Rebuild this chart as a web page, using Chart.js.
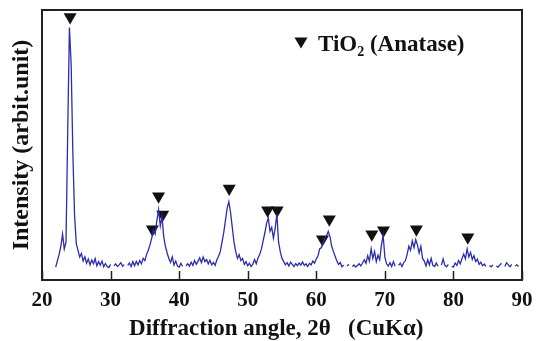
<!DOCTYPE html>
<html>
<head>
<meta charset="utf-8">
<script src="https://cdn.jsdelivr.net/npm/chart.js@4"></script>
<style>
  body { margin: 0; background: #fff; }
</style>
</head>
<body>
<canvas id="xrd" width="541" height="341"></canvas>
<script>
// XRD scan, 2theta from 22 deg in 0.25 deg steps (null = dropout in the trace)
const scanStart = 22;
const scanStep = 0.25;
const intensity = [
  4.8, 7.2, 9.5, 12.5, 17.0, 11.5, 14.0, 55.0,   // 22
  93.5, 80.0, 47.0, 24.0, 13.5, 11.0, 8.5, 9.8,  // 24
  7.0, 8.6, 6.2, 7.8, 5.6, 7.4, 6.0, 7.9,        // 26
  5.2, 6.8, 5.5, 7.0, 4.9, 6.1, 5.0, 4.6,        // 28
  5.8, null, 5.2, 6.0, 5.0, 5.6, 6.4, 5.1,       // 30
  5.7, null, 5.4, 6.3, 5.0, 6.8, 5.3, 6.9,       // 32
  5.6, 7.2, 6.0, 8.0, 7.2, 9.5, 11.0, 13.0,      // 34
  15.5, 18.5, 17.0, 22.0, 26.0, 20.0, 23.5, 16.0,// 36
  12.5, 10.0, 8.0, 6.5, 8.6, 5.5, 7.0, 5.2,      // 38
  4.7, 6.2, 5.0, null, 5.3, 6.0, 5.1, 6.6,       // 40
  5.4, 7.2, 5.8, 6.9, 8.2, 6.4, 8.5, 6.8,        // 42
  7.6, 6.0, 7.3, 5.6, 6.5, 5.4, 7.5, 8.8,        // 44
  10.5, 14.0, 17.5, 22.0, 26.5, 29.0, 25.0, 19.5,// 46
  14.0, 10.5, 8.0, 9.4, 7.2, 8.0, 5.8, 6.8,      // 48
  5.3, 6.2, 5.0, 5.9, 7.6, 6.0, 8.2, 9.5,        // 50
  11.5, 14.5, 17.5, 21.0, 23.0, 18.0, 19.5, 15.5,// 52
  19.0, 24.5, 14.0, 10.5, 8.0, 6.8, 5.6, 6.4,    // 54
  5.2, 6.6, 5.8, 5.0, 6.1, 5.3, 6.3, 5.5,        // 56
  6.7, 5.4, 6.0, 5.0, 6.2, 5.6, 7.0, 6.2,        // 58
  7.8, 9.0, 11.5, 12.0, 14.0, 15.5, 16.5, 18.0,  // 60
  16.0, 12.5, 10.5, 8.8, 7.0, 5.8, 6.5, 4.9,     // 62
  5.5, null, 5.2, 5.8, null, 5.0, 5.6, 4.8,      // 64
  5.4, 6.0, 5.2, 6.3, 7.5, 6.2, 9.0, 7.0,        // 66
  11.5, 8.0, 10.5, 6.8, 9.2, 7.5, 13.0, 16.5,    // 68
  8.5, 6.0, 5.2, 6.4, 5.0, 6.8, 5.1, null,       // 70
  5.4, 6.2, 5.0, 6.4, 7.2, 9.5, 12.5, 11.0,      // 72
  14.5, 12.0, 15.0, 13.0, 10.0, 12.5, 8.0, 7.0,  // 74
  5.2, 7.5, 5.6, 8.0, 5.4, 5.0, 6.3, 5.1,        // 76
  null, 5.5, 7.8, 5.4, 4.9, 5.8, null, 5.1,      // 78
  4.8, 6.3, 5.4, 7.2, 6.0, 8.0, 9.6, 7.8,        // 80
  11.5, 8.5, 10.2, 7.6, 9.0, 6.8, 7.7, 5.8,      // 82
  6.6, 5.3, 5.9, 5.0, null, 5.4, 4.9, 5.6,       // 84
  null, 5.2, 4.8, 5.5, 6.2, null, 5.0, 6.4,      // 86
  5.6, 4.9, 5.8, null, 5.2, 5.6, 5.0             // 88
];

// anatase reflections marked with a triangle
const peakAngles = [24.1, 36.1, 37.0, 37.6, 47.3, 52.9, 54.3, 60.9, 61.9, 68.1, 69.8, 74.6, 82.1];
const peakLevels = [97.4, 18.8, 31.0, 24.3, 33.9, 25.8, 25.8, 15.1, 22.5, 16.9, 18.4, 18.8, 15.8];

const xTicks = [20, 30, 40, 50, 60, 70, 80, 90];

const scanPoints = intensity.map((v, i) => ({ x: scanStart + i * scanStep, y: v }));
const peakPoints = peakAngles.map((a, i) => ({ x: a, y: peakLevels[i] }));

const serif = "'Liberation Serif', 'DejaVu Serif', serif";

// box round the plot and the small inward ticks on the bottom axis
const framePlugin = {
  id: "frame",
  afterDatasetsDraw(chart) {
    const { ctx, chartArea: a, scales } = chart;
    ctx.save();
    ctx.strokeStyle = "#222";
    ctx.lineWidth = 1.5;
    xTicks.forEach((t) => {
      const px = Math.round(scales.x.getPixelForValue(t)) + 0.5;
      ctx.beginPath();
      ctx.moveTo(px, a.bottom);
      ctx.lineTo(px, a.bottom - 9);
      ctx.stroke();
    });
    ctx.lineWidth = 2;
    ctx.strokeRect(a.left, a.top, a.right - a.left, a.bottom - a.top);
    ctx.restore();
  },
};

// legend: triangle + TiO2 (Anatase) with subscript
const legendPlugin = {
  id: "tioLegend",
  afterDraw(chart) {
    const ctx = chart.ctx;
    const x = 301, y = 43;
    ctx.save();
    ctx.fillStyle = "#111";
    ctx.beginPath();
    ctx.moveTo(x - 6.5, y - 5.5);
    ctx.lineTo(x + 6.5, y - 5.5);
    ctx.lineTo(x, y + 5.5);
    ctx.closePath();
    ctx.fill();
    ctx.textBaseline = "alphabetic";
    ctx.font = "bold 23px " + serif;
    let tx = 318;
    ctx.fillText("TiO", tx, 51);
    tx += ctx.measureText("TiO").width;
    ctx.font = "bold 14px " + serif;
    ctx.fillText("2", tx, 56);
    tx += ctx.measureText("2").width;
    ctx.font = "bold 23px " + serif;
    ctx.fillText(" (Anatase)", tx, 51);
    ctx.restore();
  },
};

new Chart("xrd", {
  type: "line",
  data: {
    datasets: [
      {
        data: scanPoints,
        borderColor: "#2c2cad",
        borderWidth: 1.3,
        pointRadius: 0,
        tension: 0,
        spanGaps: false,
      },
      {
        type: "scatter",
        data: peakPoints,
        pointStyle: "triangle",
        rotation: 180,
        pointRadius: 7.5,
        backgroundColor: "#111",
        borderColor: "#111",
        borderWidth: 0,
        clip: false,
      },
    ],
  },
  options: {
    responsive: false,
    animation: false,
    layout: { padding: { left: 10, right: 19, top: 10, bottom: 0 } },
    plugins: {
      legend: { display: false },
      tooltip: { enabled: false },
    },
    scales: {
      x: {
        type: "linear",
        min: 20,
        max: 90,
        afterBuildTicks: (axis) => { axis.ticks = xTicks.map((v) => ({ value: v })); },
        grid: { display: false },
        border: { display: false },
        ticks: {
          color: "#111",
          padding: 2,
          font: { family: serif, size: 21, weight: "bold", lineHeight: 1.0 },
        },
        title: {
          display: true,
          text: "Diffraction angle, 2\u03b8   (CuK\u03b1)  ",
          color: "#111",
          padding: { top: 5, bottom: 0 },
          font: { family: serif, size: 23, weight: "bold", lineHeight: 1.0 },
        },
      },
      y: {
        min: 0,
        max: 100,
        grid: { display: false },
        border: { display: false },
        ticks: { display: false },
        title: {
          display: true,
          text: "Intensity (arbit.unit)",
          color: "#111",
          padding: { top: 0, bottom: 0 },
          font: { family: serif, size: 24, weight: "bold", lineHeight: 1.0 },
        },
      },
    },
  },
  plugins: [framePlugin, legendPlugin],
});
</script>
</body>
</html>
